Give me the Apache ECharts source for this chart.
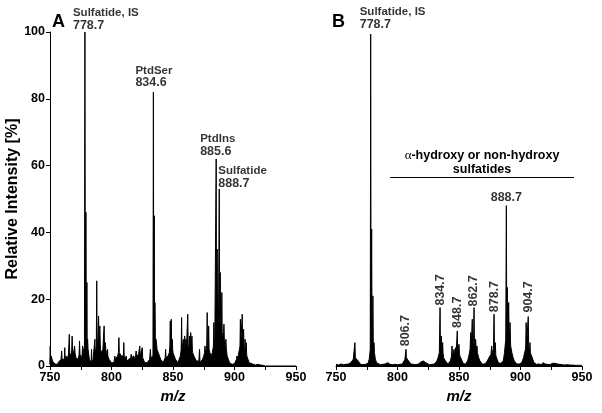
<!DOCTYPE html>
<html><head><meta charset="utf-8">
<script src="https://cdn.jsdelivr.net/npm/echarts@6/dist/echarts.min.js"></script>
<style>html,body{margin:0;padding:0;background:#fff}#c{width:602px;height:413px}</style>
</head><body><div id="c"></div>
<script>
// ---------- DATA ----------
const xTicks = [750, 800, 850, 900, 950];
const yTicks = [0, 20, 40, 60, 80, 100];

// Panel A: discrete peaks [m/z, relative intensity]
const peaksA = [[750.2,6],[759.5,4.5],[762,5.5],[765.7,9.5],[768,9],[770,6],[774,7.5],[776.5,6],
 [778.4,100],[779.2,46],[780,25],[780.6,8],[783.8,5],[786.5,8],[788,25.5],[789.5,15],[790.5,12],
 [794,12],[795,7],[796.8,5],[802.7,3],[806,8.5],[810,7],[812,3],[816,3.5],[820,4.5],[823,6],[825,5.5],
 [831.6,5],[834.05,82],[834.8,45],[835.3,19],[836.2,8],[844,5],[847.8,13.5],[848.6,14],[849.4,8],
 [857,14.5],[858.4,8],[859.5,9],[860.4,8],[862,15.5],[863.5,9],[864.4,10],[865.4,9],[871.6,5],[876,6],
 [877.8,16],[879,12],[883.2,13],[885.1,62],[885.9,35],[887.6,53],[888.4,28],[889.7,22],[891.4,12.5],
 [893,8],[902,3],[904.8,14],[906.3,15.5],[907.4,11],[908.6,8],[909.5,7],[915,1],[920,0.8]];
// Panel A: noise floor [m/z, level]
const noiseA = [[750,0.5],[751,3],[752,1.5],[753,1],[754,0.6],[755,1],[756,0.5],[757,1.2],[758,0.8],[759,2],
 [760,1.5],[761,2.5],[762,2],[763,3],[764,2],[765,3.5],[766,4],[767,3],[768,4.5],[769,3.5],[770,4],[771,2.5],
 [772,3],[773,2],[774,3.5],[775,3],[776,2.5],[777,4],[778,6],[781,5],[782,2],[783,1.5],[784,1],[785,2],
 [786,2.5],[787,4],[788,6],[789,8],[790,7],[791,5],[792,4],[793,5],[794,5.5],[795,5],[796,4],[797,3],[798,2],
 [799,1.5],[800,1],[801,1.5],[802,1],[803,2],[804,1.5],[805,3],[806,4],[807,3.5],[808,3],[809,3.5],[810,3],
 [811,2],[812,1.5],[813,1],[814,2],[815,1.5],[816,2.5],[817,2],[818,3],[819,2],[820,3],[821,2.5],[822,3.5],
 [823,3],[824,3.5],[825,2.5],[826,2],[827,1],[828,0.8],[829,1],[830,1.5],[831,2],[832,2.5],[833,3],[836.6,7],
 [837,5],[838,4],[839,3.5],[840,2],[841,1.5],[842,1],[843,1.5],[844,2.5],[845,2],[846,3],[847,4],[848,6],
 [849,5],[850,4],[851,3],[852,2],[853,1.5],[854,1],[855,1.5],[856,3],[857,5],[858,4.5],[859,5],[860,4],
 [861,6],[862,6],[863,5],[864,5.5],[865,5],[866,4],[867,3],[868,2.5],[869,1.5],[870,1],[871,1.5],[872,1],
 [873,1.5],[874,2],[875,3],[876,4],[877,5],[878,6],[879,5],[880,4],[881,3],[882,4],[883,6],[884,8],[886.5,12],
 [887,14],[890,10],[891,8],[892,6],[893,5],[894,3],[895,2],[896,1],[897,0.8],[898,0.5],[899,0.5],[900,0.7],
 [901,1],[902,2],[903,3],[904,5],[905,6],[906,6],[907,5.5],[908,5],[909,4],[910,3],[911,2],[912,1],[913,0.5],
 [915,0.6],[917,0.3],[919,0.5],[921,0.3],[923,0.2],[925,0],[950,0]];

// Panel B: discrete peaks
const peaksB = [[765.4,7],[766.8,3],[778.2,99.4],[779,41],[780,21],[780.9,7],[792.5,1.2],[806.9,5],[808,2.5],
 [819.6,1.5],[821.5,1.8],[832.4,2],[834.6,17.5],[835.6,9],[836.7,7],[837.8,3],[844.3,6],[846,5],[847.3,5.5],
 [848.6,10.5],[850,6.5],[851,3],[859.5,10],[860.8,14],[862.2,17.5],[863.5,8],[864.6,6],[874.7,2.5],[876.6,6],
 [878.5,15.5],[879.5,7],[886.6,2],[888.5,48],[889.3,23.5],[890.4,19],[891.5,13],[892.5,6],[902.8,2.5],
 [904.6,13],[906.3,14.8],[907.7,7],[918.6,1],[926.7,1]];
// Panel B: noise floor
const noiseB = [[750,0.5],[752,0.3],[754,0.6],[756,0.4],[758,0.5],[760,0.6],[762,1],[763,1.5],[764,2],[766,2.5],
 [767,2],[768,1.5],[769,1],[770,0.5],[772,0.4],[774,0.5],[776,0.8],[777,2],[778,5],[781.5,4],[782,2],[783,1],
 [784,0.5],[786,0.4],[788,0.5],[790,0.6],[791,0.8],[792,1],[793,0.8],[794,0.5],[796,0.4],[798,0.5],[800,0.4],
 [802,0.5],[804,0.6],[805,1],[806,2],[807.5,2.5],[808.5,2],[809,1.5],[810,1],[811,0.6],[813,0.5],[815,0.4],
 [817,0.6],[818,1],[819,1.2],[820,1.5],[821,1.5],[822,1.2],[823,1],[824,0.6],[826,0.4],[828,0.5],[830,0.6],
 [831,1],[832,1.5],[833,2.5],[834,4],[836,5],[837,4],[838.3,2.5],[839,1.5],[840,1],[841,0.6],[842,1],[843,1.5],
 [844,3],[845,3.5],[846.5,3],[847,3.5],[848,4],[849,4],[850.5,4],[851.5,3],[852,2],[853,1],[854,0.6],[855,0.5],
 [856,0.8],[857,1.5],[858,3],[859,5],[860,6],[861,6],[862,7],[863,6],[864,5],[865,4],[866,2.5],[867,1.5],
 [868,1],[869,0.6],[870,0.5],[871,0.6],[872,1],[873,1.5],[874,2],[875,3],[876,3.5],[877,4],[878,5],[879,4],
 [880,3],[881,2],[882,1],[883,0.8],[884,0.8],[885,1],[886,1.5],[887,4],[888,8],[890,10],[891,8],[892,6],
 [893,4],[894,2.5],[895,1.5],[896,1],[897,0.6],[898,0.5],[899,0.6],[900,0.8],[901,1],[902,1.5],[903,3],
 [904,5],[905,6],[906,6],[907,5],[908,4],[909,3],[910,2],[911,1],[912,0.6],[913,0.5],[915,0.6],[917,0.4],
 [918,0.8],[919,1],[920,0.6],[922,0.5],[924,0.4],[926,0.8],[927,1],[928,0.8],[930,0.6],[932,0.5],[934,0.4],
 [936,0.3],[938,0.4],[940,0.3],[945,0.2],[950,0.2]];

// Annotations: [peak m/z, peak height, name, value text]
const labelsA = [[778.4,100,'Sulfatide, IS','778.7'],[834.05,82,'PtdSer','834.6'],
                 [885.1,62,'PtdIns','885.6'],[887.6,53,'Sulfatide','888.7']];
const labelsB = [[778.2,99.4,'Sulfatide, IS','778.7']];
const topB = [[888.5,48,'888.7']];
const rotB = [[806.9,5,'806.7'],[834.6,17.5,'834.7'],[848.6,10.5,'848.7'],
              [862.2,17.5,'862.7'],[878.5,15.5,'878.7'],[906.3,14.8,'904.7']];
const bracketB = {from: 794, to: 943.5, level: 56.5,
  line1: 'α-hydroxy or non-hydroxy', line2: 'sulfatides'};

// ---------- BUILD ----------
const FONT = "'Liberation Sans', Arial, Helvetica, sans-serif";
function nearestLevel(noise, m){
  let best = noise[0], d = 1e9;
  for (const p of noise){ const dd = Math.abs(p[0]-m); if (dd < d){ d = dd; best = p; } }
  return best[1];
}
function spectrum(noise, peaks){
  const pts = noise.map(p => [p[0], p[1]]);
  peaks.forEach(([m,h]) => {
    const b = Math.min(nearestLevel(noise, m), h);
    pts.push([m-0.35, b], [m, h], [m+0.35, b]);
  });
  pts.sort((a,b) => a[0]-b[0]);
  return pts;
}
const chart = echarts.init(document.getElementById('c'), null, {renderer:'canvas'});

function xAxisCfg(gi){
  return {type:'value', gridIndex:gi, min:750, max:950, interval:25,
    name:'m/z', nameLocation:'middle', nameGap:20,
    nameTextStyle:{fontFamily:FONT, fontSize:15, fontWeight:'bold', fontStyle:'italic', color:'#000'},
    axisLine:{lineStyle:{color:'#000', width:1}},
    axisTick:{length:4, lineStyle:{color:'#000'}},
    axisLabel:{margin:5, color:'#000', fontFamily:FONT, fontSize:12.5, fontWeight:'bold',
      formatter: v => xTicks.includes(v) ? String(v) : ''},
    splitLine:{show:false}};
}
const lineStyle = {color:'#000', width:1};
const seriesSpec = (gi, noise, peaks) => ({
  type:'line', xAxisIndex:gi, yAxisIndex:gi, data:spectrum(noise, peaks),
  symbol:'none', lineStyle, areaStyle:{color:'#000', opacity:1}, sampling:null, z:2});

function nameLabelSeries(gi, arr, offs){
  return {type:'scatter', xAxisIndex:gi, yAxisIndex:gi, symbolSize:0, silent:true, z:5,
    data: arr.map((a,i) => ({value:[a[0],a[1]],
      label:{show:true, position:'top', distance:0, align:'left', verticalAlign:'bottom',
        offset: offs[i], formatter: '{n|'+a[2]+'}\n{v|'+a[3]+'}',
        rich:{n:{fontFamily:FONT, fontSize:11.5, fontWeight:'bold', color:'#000', lineHeight:12.5},
              v:{fontFamily:FONT, fontSize:12.5, fontWeight:'bold', color:'#000', lineHeight:12.5}}}}))};
}

const option = {
  animation:false,
  backgroundColor:'#fff',
  grid:[{left:50, top:32, width:246, height:334},{left:336, top:32, width:246, height:334}],
  xAxis:[xAxisCfg(0), xAxisCfg(1)],
  yAxis:[
    {type:'value', gridIndex:0, min:0, max:100, interval:20,
     name:'Relative Intensity [%]', nameLocation:'middle', nameGap:26,
     nameTextStyle:{fontFamily:FONT, fontSize:16, fontWeight:'bold', color:'#000'},
     axisLine:{show:true, lineStyle:{color:'#000', width:1}},
     axisTick:{show:true, length:4, lineStyle:{color:'#000'}},
     axisLabel:{margin:5, color:'#000', fontFamily:FONT, fontSize:12.5, fontWeight:'bold',
       formatter: v => yTicks.includes(v) ? String(v) : ''},
     splitLine:{show:false}},
    {type:'value', gridIndex:1, min:0, max:100, interval:20, show:false, splitLine:{show:false}}
  ],
  series:[
    seriesSpec(0, noiseA, peaksA),
    Object.assign(seriesSpec(1, noiseB, peaksB), {
      markLine:{silent:true, symbol:'none', label:{show:false},
        lineStyle:{color:'#000', width:1, type:'solid'},
        data:[[{coord:[bracketB.from, bracketB.level]},{coord:[bracketB.to, bracketB.level]}]]}}),
    nameLabelSeries(0, labelsA, [[-12,0],[-18,-3],[-16,-1],[-1,1]]),
    nameLabelSeries(1, labelsB, [[-11,-3]]),
    {type:'scatter', xAxisIndex:1, yAxisIndex:1, symbolSize:0, silent:true, z:5,
     data: topB.map(a => ({value:[a[0],a[1]], label:{show:true, position:'top', distance:2,
       formatter:a[2], fontFamily:FONT, fontSize:12.5, fontWeight:'bold', color:'#000'}}))},
    {type:'scatter', xAxisIndex:1, yAxisIndex:1, symbolSize:0, silent:true, z:5,
     data: rotB.map((a,i) => ({value:[a[0],a[1]], label:{show:true, position:'top',
       distance:[3,2,3,1,2,4][i], rotate:90, align:'left', verticalAlign:'middle',
       formatter:a[2], fontFamily:FONT, fontSize:12.5, fontWeight:'bold', color:'#000'}}))}
  ],
  graphic:[
    {type:'text', left:52, top:13, style:{text:'A', fontFamily:FONT, fontSize:18, fontWeight:'bold', fill:'#000'}},
    {type:'text', left:332, top:13, style:{text:'B', fontFamily:FONT, fontSize:18, fontWeight:'bold', fill:'#000'}},
    {type:'text', x:482, y:149, style:{
      text:'{g|α}{t|-hydroxy or non-hydroxy}\n{t|' + bracketB.line2 + '}',
      align:'center', verticalAlign:'top',
      rich:{g:{fontFamily:"'Liberation Serif', 'DejaVu Serif', serif", fontSize:13, fill:'#000', lineHeight:14},
            t:{fontFamily:FONT, fontSize:12.5, fontWeight:'bold', fill:'#000', lineHeight:14}}}}
  ]
};
chart.setOption(option);
</script></body></html>
